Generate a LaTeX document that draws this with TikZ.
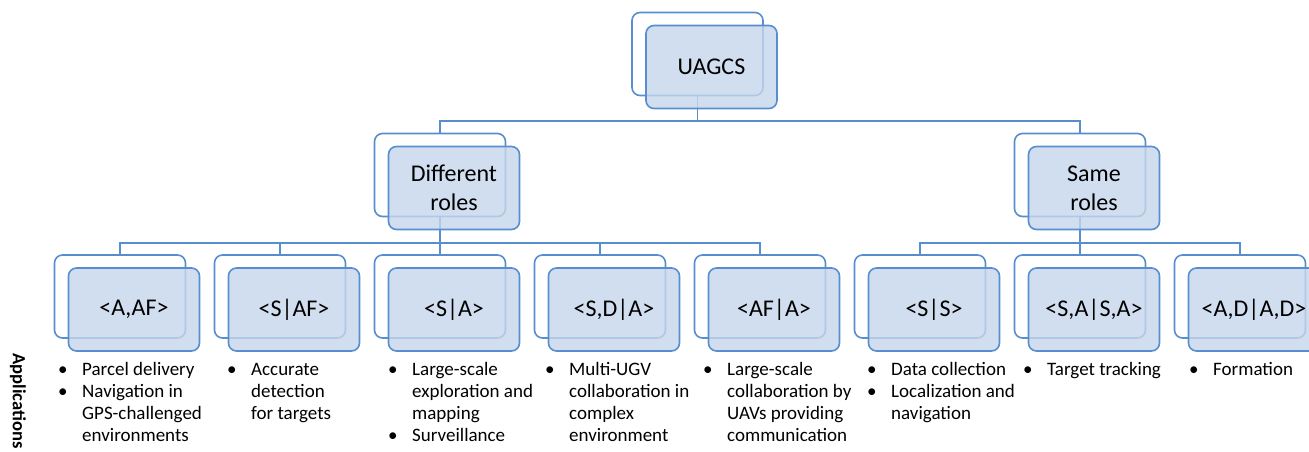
\documentclass[tikz,border=0pt]{standalone}
\usepackage{fontspec}
\setmainfont{Carlito}
\usepackage{tikz}
\usetikzlibrary{positioning}

\definecolor{smartblue}{RGB}{88,142,205}
\definecolor{smartfill}{RGB}{198,214,236}

\newcommand{\appbullet}{\makebox[24pt][l]{\textbullet}}
\newcommand{\appgap}{\hspace*{24pt}}

\tikzset{
  backbox/.style={draw=smartblue, line width=1.6pt, rounded corners=8pt, fill=white,
    minimum width=131pt, minimum height=83pt, inner sep=0pt},
  frontbox/.style={backbox, fill=smartfill, fill opacity=0.8, text opacity=1,
    align=center, font=\fontsize{24}{29}\selectfont},
  link/.style={draw=smartblue, line width=1.6pt},
  applist/.style={anchor=base west, inner sep=0pt, font=\fontsize{19}{22}\selectfont},
}

\begin{document}
\begin{tikzpicture}[x=1pt,y=-1pt]
\useasboundingbox (0,0) rectangle (1309,452);
\clip (0,0) rectangle (1309,452);

% back boxes
\node[backbox] (uagcs-b) at (697.5,54) {};
\node[backbox] (diff-b) at (440,175) {};
\node[backbox] (same-b) at (1080,175) {};
\foreach \k/\x in {aaf/120, saf/280, sa/440, sda/600, afa/760, ss/920, sasa/1080, adad/1240}
  \node[backbox] (\k-b) at (\x,296.5) {};

% bus lines
\coordinate (bus0) at (0,121);
\coordinate (bus1) at (0,243);
\draw[link] (uagcs-b.south) -- (uagcs-b.south |- bus0) -| (diff-b.north);
\draw[link] (uagcs-b.south |- bus0) -| (same-b.north);
\foreach \k in {aaf, saf, sa, sda, afa}
  \draw[link] (diff-b.south) -- (diff-b.south |- bus1) -| (\k-b.north);
\foreach \k in {ss, sasa, adad}
  \draw[link] (same-b.south) -- (same-b.south |- bus1) -| (\k-b.north);

% front boxes
\node[frontbox] (uagcs) at ([shift={(14,13)}]uagcs-b) {UAGCS};
\node[frontbox] (diff) at ([shift={(14,13)}]diff-b) {Different\\roles};
\node[frontbox] (same) at ([shift={(14,13)}]same-b) {Same\\roles};
\foreach \k/\lbl in {aaf/{<A,AF>}, saf/{<S|AF>}, sa/{<S|A>}, sda/{<S,D|A>},
    afa/{<AF|A>}, ss/{<S|S>}, sasa/{<S,A|S,A>}, adad/{<A,D|A,D>}}
  \node[frontbox] (\k) at ([shift={(14,13)}]\k-b) {\lbl};

% applications
\node[font=\bfseries\fontsize{18.6}{22}\selectfont, rotate=-90, anchor=west, inner sep=0pt]
  (apps) at (18,353) {Applications};

\node[applist] (aaf-app) at (58,375) {\begin{tabular}[t]{@{}l@{}}
  \appbullet Parcel delivery\\ \appbullet Navigation in\\ \appgap GPS-challenged\\ \appgap environments
  \end{tabular}};
\node[applist] (saf-app) at (227,375) {\begin{tabular}[t]{@{}l@{}}
  \appbullet Accurate\\ \appgap detection\\ \appgap for targets
  \end{tabular}};
\node[applist] (sa-app) at (388,375) {\begin{tabular}[t]{@{}l@{}}
  \appbullet Large-scale\\ \appgap exploration and\\ \appgap mapping\\ \appbullet Surveillance
  \end{tabular}};
\node[applist] (sda-app) at (545,375) {\begin{tabular}[t]{@{}l@{}}
  \appbullet Multi-UGV\\ \appgap collaboration in\\ \appgap complex\\ \appgap environment
  \end{tabular}};
\node[applist] (afa-app) at (703,375) {\begin{tabular}[t]{@{}l@{}}
  \appbullet Large-scale\\ \appgap collaboration by\\ \appgap UAVs providing\\ \appgap communication
  \end{tabular}};
\node[applist] (ss-app) at (867,375) {\begin{tabular}[t]{@{}l@{}}
  \appbullet Data collection\\ \appbullet Localization and\\ \appgap navigation
  \end{tabular}};
\node[applist] (sasa-app) at (1023,375) {\begin{tabular}[t]{@{}l@{}}
  \appbullet Target tracking
  \end{tabular}};
\node[applist] (adad-app) at (1189,375) {\begin{tabular}[t]{@{}l@{}}
  \appbullet Formation
  \end{tabular}};
\end{tikzpicture}
\end{document}
